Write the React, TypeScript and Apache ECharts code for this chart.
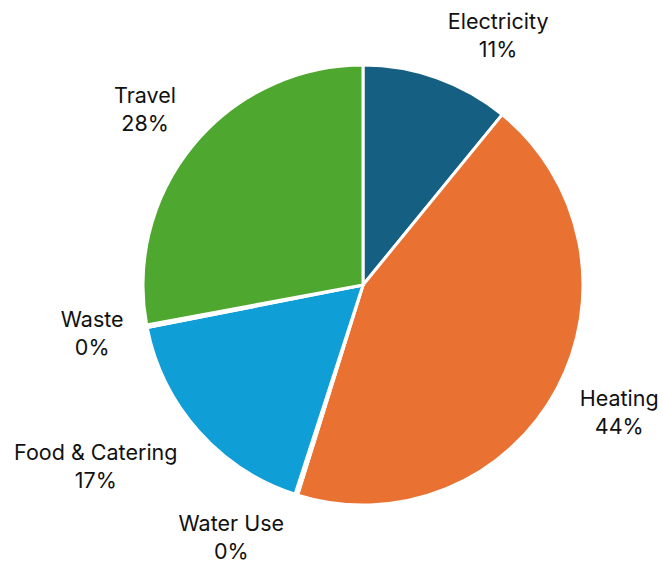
import React, { useEffect, useRef } from "react";
import * as echarts from "echarts";

const categories = ["Electricity", "Heating", "Water Use", "Food & Catering", "Waste", "Travel"];
const values = [10.9, 43.9, 0.2, 16.9, 0.2, 27.9];
const colors = ["#156082", "#E97132", "#196B24", "#0F9ED5", "#A02B93", "#4EA72E"];

// label placement tweaks (angle offset in degrees, radial distance in px)
const labelAngleNudge = [8.8, -1.9, 10.0, 7.4, 0.8, -0.9];
const labelDistance = [284, 286, 284, 323, 275, 280];

const CX = 363;
const CY = 285;
const R = 220;

export default function App() {
  const ref = useRef<HTMLDivElement>(null);
  useEffect(() => {
    if (!ref.current) return;
    const chart = echarts.init(ref.current, null, { renderer: "svg" });
    const total = values.reduce((a, b) => a + b, 0);
    const mids: number[] = [];
    let acc = 0;
    values.forEach((v) => {
      mids.push(((acc + v / 2) / total) * 360);
      acc += v;
    });
    chart.setOption({
      animation: false,
      backgroundColor: "#ffffff",
      series: [
        {
          type: "pie",
          center: [CX, CY],
          radius: R,
          startAngle: 90,
          clockwise: true,
          minAngle: 0,
          avoidLabelOverlap: false,
          data: categories.map((name, i) => ({
            name,
            value: values[i],
            itemStyle: { color: colors[i] },
          })),
          itemStyle: { borderColor: "#ffffff", borderWidth: 3 },
          label: {
            show: true,
            position: "outside",
            formatter: (p: any) => `${p.name}\n${Math.round((p.value / total) * 100)}%`,
            fontFamily: "Inter, 'Noto Sans', sans-serif",
            fontSize: 21.5,
            lineHeight: 28,
            color: "#111111",
            align: "center",
          },
          labelLine: { show: false },
          labelLayout: (params: any) => {
            const i = params.dataIndex;
            const a = ((mids[i] + labelAngleNudge[i]) * Math.PI) / 180;
            const d = labelDistance[i];
            return {
              x: CX + d * Math.sin(a),
              y: CY - d * Math.cos(a),
              align: "center",
              verticalAlign: "middle",
            };
          },
          emphasis: { disabled: true },
        },
      ],
    });
    return () => chart.dispose();
  }, []);
  return (
    <div
      ref={ref}
      style={{ position: "fixed", left: 0, top: 0, width: 663, height: 565 }}
    />
  );
}
